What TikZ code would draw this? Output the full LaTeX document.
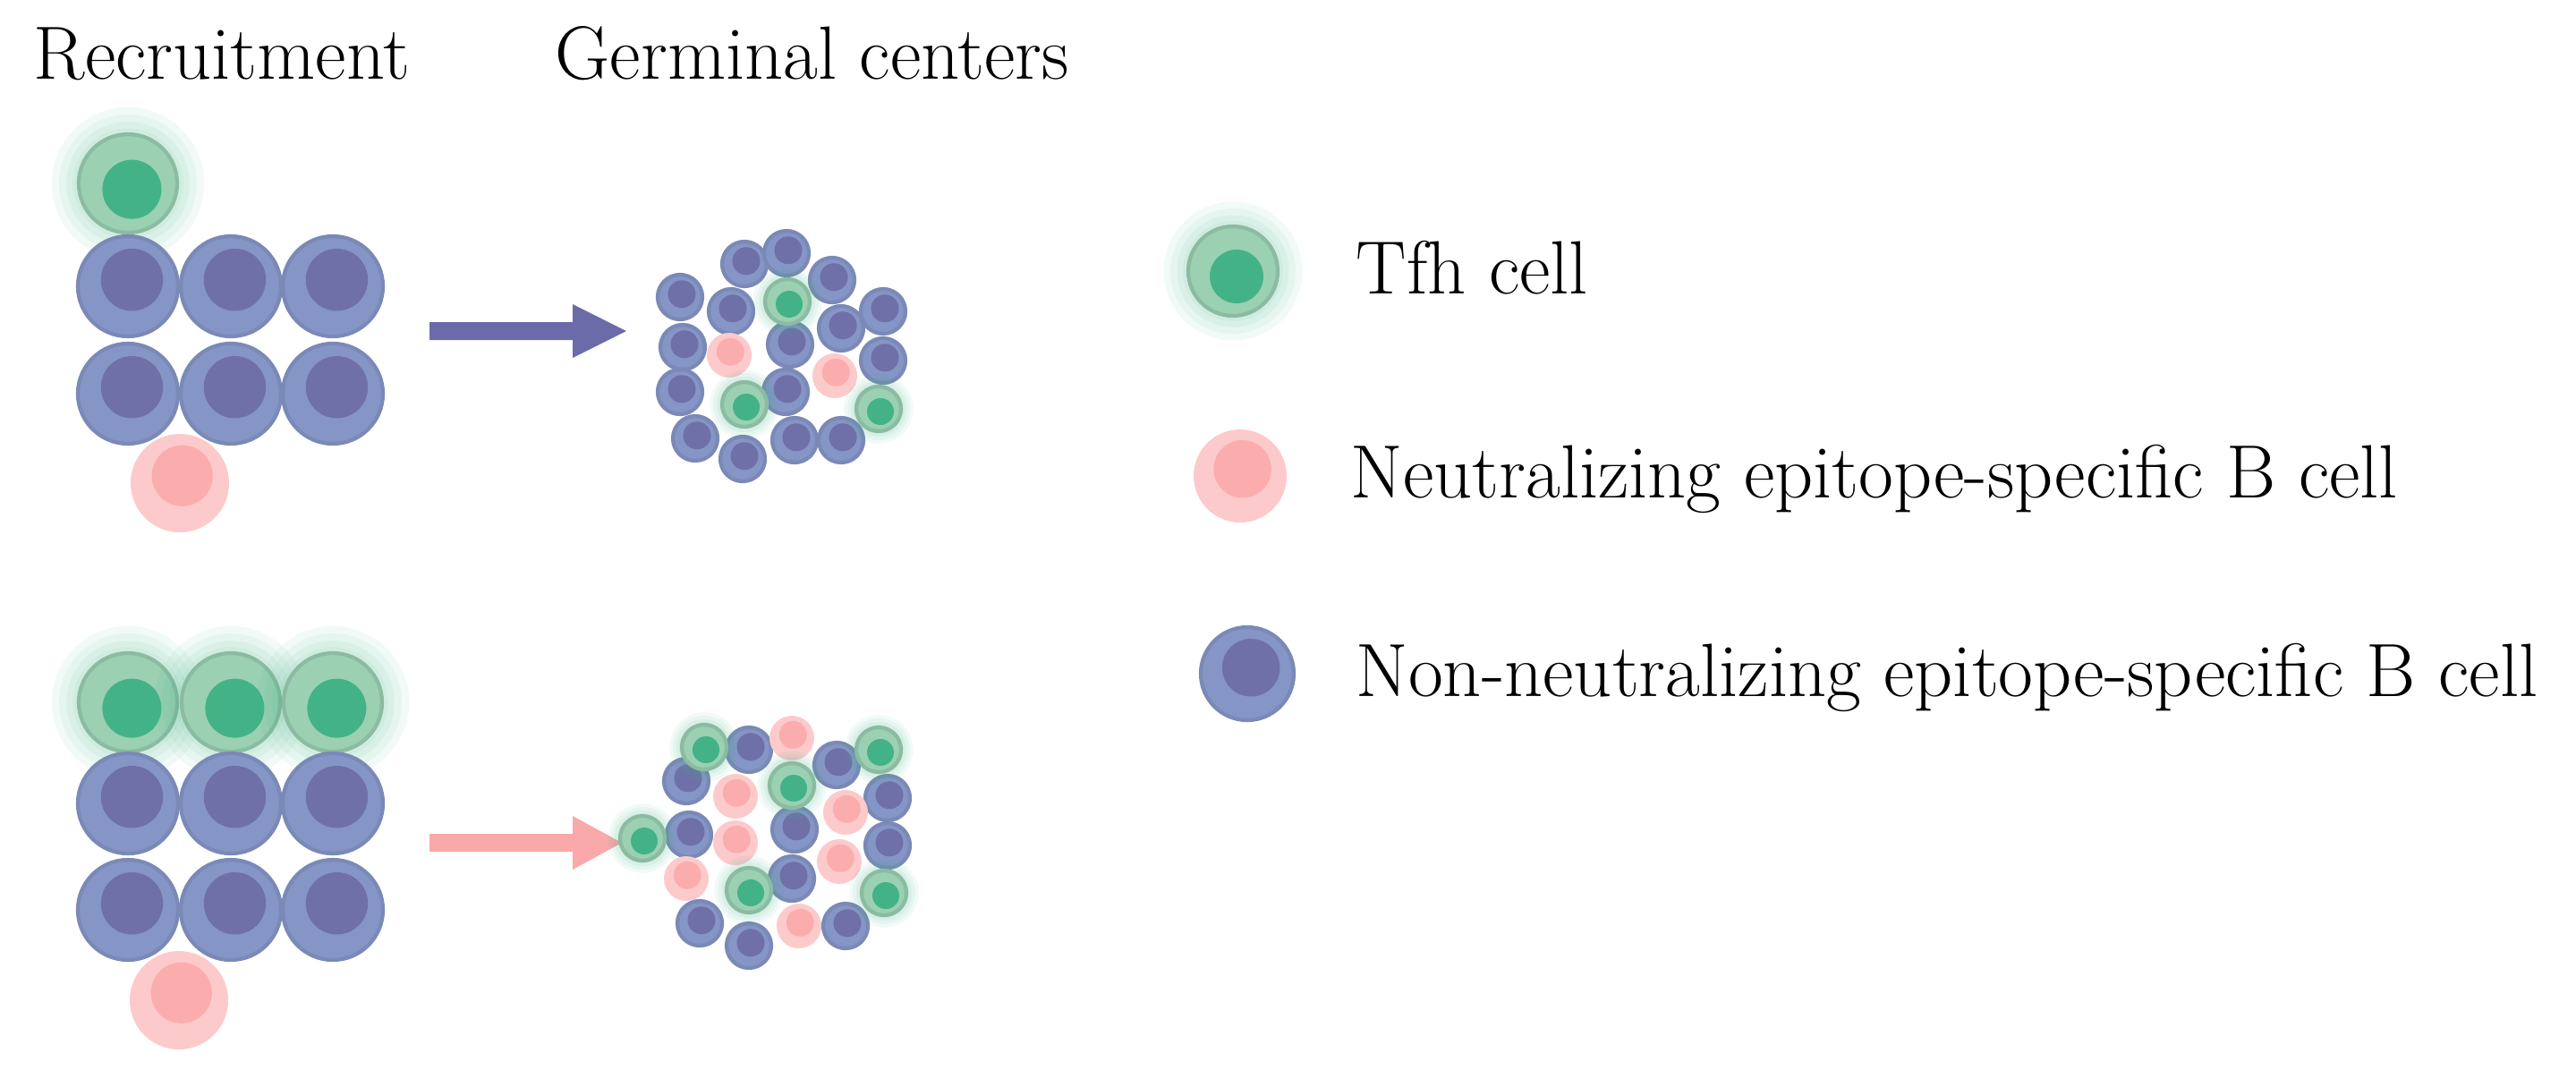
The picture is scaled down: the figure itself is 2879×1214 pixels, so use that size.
\documentclass[tikz,border=0pt]{standalone}
\usepackage{tikz}

\definecolor{bOut}{HTML}{8595C6}
\definecolor{bNuc}{HTML}{6F70A8}
\definecolor{gOut}{HTML}{9BD0B3}
\definecolor{gNuc}{HTML}{43B387}
\definecolor{pOut}{HTML}{FDCACB}
\definecolor{pNuc}{HTML}{FBADAE}
\definecolor{arrB}{HTML}{6B6BA9}
\definecolor{arrP}{HTML}{F9A9AA}

\tikzset{
  lbl/.style={anchor=base west,inner sep=0pt,font=\fontsize{24}{28}\selectfont},
  glow/.style={fill=gNuc,opacity=0.07},
}

% non-neutralizing B cell: x, y, radius
\newcommand{\nnCell}[3]{%
  \fill[bOut,draw=bOut!92!black,line width=1.2] (#1,#2) circle (#3);
  \fill[bNuc] (#1+0.08*#3,#2-0.13*#3) circle (0.62*#3);}
% neutralizing B cell
\newcommand{\nCell}[3]{%
  \fill[pOut] (#1,#2) circle (#3);
  \fill[pNuc] (#1+0.05*#3,#2-0.15*#3) circle (0.62*#3);}
% Tfh cell
\newcommand{\tCell}[3]{%
  \foreach \g in {1.55,1.4,1.25,1.12} \fill[glow] (#1,#2) circle (\g*#3);
  \fill[gOut,draw=gOut!90!black,line width=1.2] (#1,#2) circle (#3);
  \fill[gNuc] (#1+0.08*#3,#2+0.12*#3) circle (0.6*#3);}

\begin{document}
\begin{tikzpicture}[x=0.01cm,y=-0.01cm]
\useasboundingbox (0,0) rectangle (2879,1214);

\node[lbl] (recTitle) at (37,88) {Recruitment};
\node[lbl] (gcTitle) at (620,88) {Germinal centers};

% recruitment, top
\tCell{143}{205}{55}
\foreach \y in {320,440} \foreach \x in {143,258,372} {\nnCell{\x}{\y}{56}}
\nCell{201}{540}{55}
% recruitment, bottom
\foreach \x in {143,258,372} {\tCell{\x}{785}{55}}
\foreach \y in {898,1017} \foreach \x in {143,258,372} {\nnCell{\x}{\y}{56}}
\nCell{200}{1118}{55}

% arrows
\coordinate (arrA) at (480,370);
\coordinate (arrB) at (480,942);
\fill[arrB] (arrA) ++(0,-10) -- ++(160,0) -- ++(0,-20) -- ++(60,30) -- ++(-60,30) -- ++(0,-20) -- ++(-160,0) -- cycle;
\fill[arrP] (arrB) ++(0,-10) -- ++(160,0) -- ++(0,-20) -- ++(55,30) -- ++(-55,30) -- ++(0,-20) -- ++(-160,0) -- cycle;

% germinal center, top
\foreach \x/\y in {832/295,879/283,930/313,760/332,817/348,987/348,940/367,883/385,
  763/388,987/403,760/438,878/438,777/490,830/513,888/492,940/492} {\nnCell{\x}{\y}{25}}
\foreach \x/\y in {815/397,933/420} {\nCell{\x}{\y}{25}}
\foreach \x/\y in {880/337,832/452,982/457} {\tCell{\x}{\y}{25}}

% germinal center, bottom
\foreach \x/\y in {837/838,935/855,767/873,992/892,770/933,888/927,992/945,885/982,
  782/1032,837/1057,945/1035} {\nnCell{\x}{\y}{25}}
\foreach \x/\y in {885/825,822/890,945/908,822/942,938/963,767/982,893/1035} {\nCell{\x}{\y}{25}}
\foreach \x/\y in {787/835,982/838,885/878,718/937,837/995,988/998} {\tCell{\x}{\y}{25}}

% legend
\tCell{1378}{303}{50}
\nCell{1386}{532}{52}
\nnCell{1394}{753}{52}
\node[lbl] (legTfh) at (1515,328) {Tfh cell};
\node[lbl] (legN) at (1509,556) {Neutralizing epitope-specific B cell};
\node[lbl] (legNN) at (1515,778) {Non-neutralizing epitope-specific B cell};
\end{tikzpicture}
\end{document}
